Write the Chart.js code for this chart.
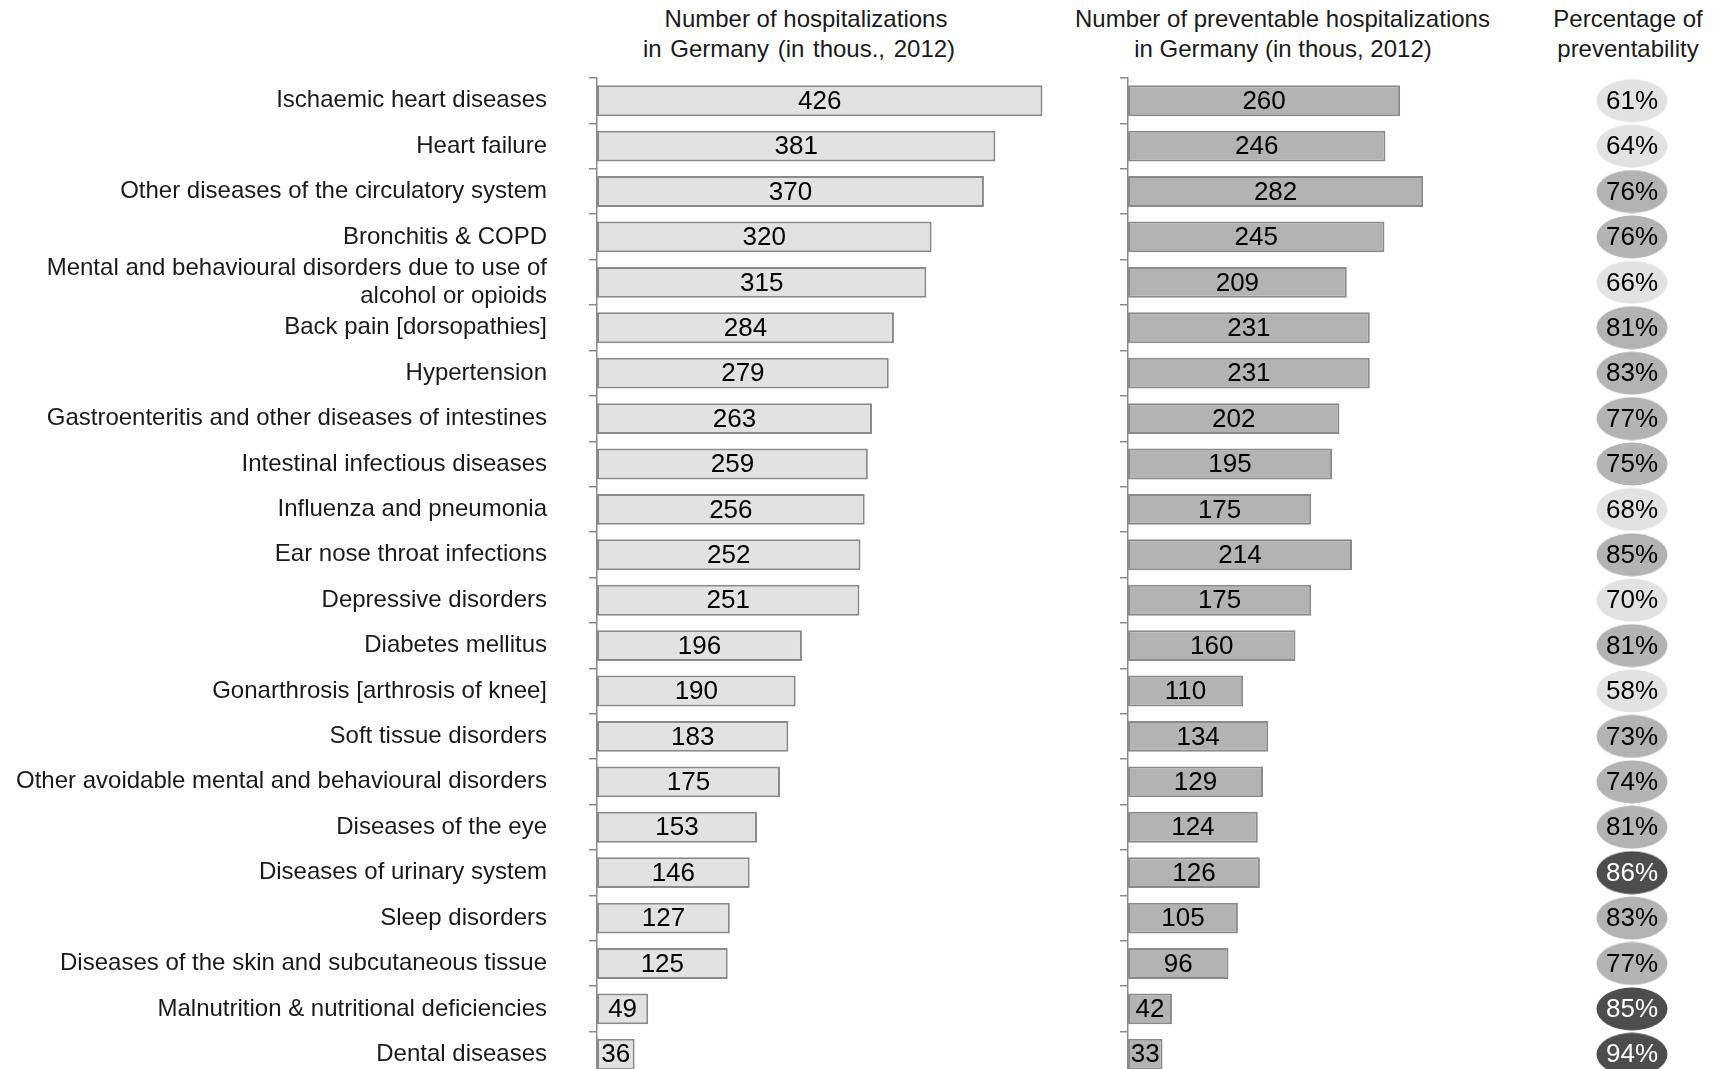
<!DOCTYPE html>
<html lang="en">
<head>
  <meta charset="UTF-8">
  <title>Preventable hospitalizations in Germany 2012</title>
  <script src="https://cdn.jsdelivr.net/npm/chart.js"></script>
  <style>
    body {
      margin: 0;
      background: #fff;
      overflow: hidden;
      font-family: 'Liberation Sans', Arial, sans-serif;
      color: #1a1a1a;
    }
    .stage {
      position: relative;
      width: 1713px;
      height: 1069px;
      overflow: hidden;
    }
    .panel {
      position: absolute;
      top: 0;
      height: 1100px;
    }
    .head {
      position: absolute;
      top: 4px;
      text-align: center;
      font-size: 24px;
      line-height: 29.5px;
      white-space: nowrap;
    }
    .head span { position: relative; }
  </style>
</head>
<body>
  <div class="stage">
    <div class="head" style="left:606px;width:400px;">Number of hospitalizations<br><span style="left:-7px;word-spacing:2px;">in Germany (in thous., 2012)</span></div>
    <div class="head" style="left:1075px;width:400px;">Number of preventable hospitalizations<br><span style="left:8px;">in Germany (in thous, 2012)</span></div>
    <div class="head" style="left:1528px;width:200px;">Percentage of<br>preventability</div>

    <div class="panel" style="left:0;width:1078px;"><canvas id="hospChart"></canvas></div>
    <div class="panel" style="left:1108px;width:334px;"><canvas id="prevChart"></canvas></div>
    <div class="panel" style="left:1590px;width:84px;"><canvas id="pctChart"></canvas></div>
  </div>

  <script>
    const categories = [
      'Ischaemic heart diseases',
      'Heart failure',
      'Other diseases of the circulatory system',
      'Bronchitis & COPD',
      ['Mental and behavioural disorders due to use of', 'alcohol or opioids'],
      'Back pain [dorsopathies]',
      'Hypertension',
      'Gastroenteritis and other diseases of intestines',
      'Intestinal infectious diseases',
      'Influenza and pneumonia',
      'Ear nose throat infections',
      'Depressive disorders',
      'Diabetes mellitus',
      'Gonarthrosis [arthrosis of knee]',
      'Soft tissue disorders',
      'Other avoidable mental and behavioural disorders',
      'Diseases of the eye',
      'Diseases of urinary system',
      'Sleep disorders',
      'Diseases of the skin and subcutaneous tissue',
      'Malnutrition & nutritional deficiencies',
      'Dental diseases'
    ];
    const hospitalizations = [426, 381, 370, 320, 315, 284, 279, 263, 259, 256, 252, 251, 196, 190, 183, 175, 153, 146, 127, 125, 49, 36];
    const preventable = [260, 246, 282, 245, 209, 231, 231, 202, 195, 175, 214, 175, 160, 110, 134, 129, 124, 126, 105, 96, 42, 33];
    const preventabilityPct = [61, 64, 76, 76, 66, 81, 83, 77, 75, 68, 85, 70, 81, 58, 73, 74, 81, 86, 83, 77, 85, 94];

    Chart.defaults.font.family = "'Liberation Sans', Arial, sans-serif";
    Chart.defaults.color = '#1a1a1a';

    const AXIS_GREY = '#8a8a8a';
    const SHADES = { light: '#e2e2e2', mid: '#b3b3b3', dark: '#4d4d4d' };
    const PAD = { top: 78, bottom: 23, left: 0, right: 0 };

    // shade follows the share preventable / total
    function shadeFor(i) {
      const r = preventable[i] / hospitalizations[i];
      if (r < 0.70) return 'light';
      if (r < 0.85) return 'mid';
      return 'dark';
    }

    function ellipseImage(color) {
      const c = document.createElement('canvas');
      c.width = 72;
      c.height = 44;
      const g = c.getContext('2d');
      g.fillStyle = color;
      g.beginPath();
      g.ellipse(36, 22, 35.5, 21.5, 0, 0, Math.PI * 2);
      g.fill();
      return c;
    }
    const ellipses = {
      light: ellipseImage(SHADES.light),
      mid: ellipseImage(SHADES.mid),
      dark: ellipseImage(SHADES.dark)
    };

    const barValueLabels = {
      id: 'barValueLabels',
      afterDatasetsDraw(chart) {
        const ctx = chart.ctx;
        const meta = chart.getDatasetMeta(0);
        const values = chart.data.datasets[0].data;
        ctx.save();
        ctx.font = "26px 'Liberation Sans', Arial, sans-serif";
        ctx.fillStyle = '#000';
        ctx.textAlign = 'center';
        ctx.textBaseline = 'middle';
        meta.data.forEach((bar, i) => {
          ctx.fillText(values[i], (bar.x + bar.base) / 2, bar.y + 1);
        });
        ctx.restore();
      }
    };

    const pctLabels = {
      id: 'pctLabels',
      afterDatasetsDraw(chart) {
        const ctx = chart.ctx;
        const meta = chart.getDatasetMeta(0);
        ctx.save();
        ctx.font = "26px 'Liberation Sans', Arial, sans-serif";
        ctx.textAlign = 'center';
        ctx.textBaseline = 'middle';
        meta.data.forEach((pt, i) => {
          ctx.fillStyle = shadeFor(i) === 'dark' ? '#fff' : '#000';
          ctx.fillText(preventabilityPct[i] + '%', pt.x, pt.y + 1);
        });
        ctx.restore();
      }
    };

    function barChart(id, values, fill, xMax, yWidth, showLabels) {
      return new Chart(document.getElementById(id), {
        type: 'bar',
        data: {
          labels: categories,
          datasets: [{
            data: values,
            backgroundColor: fill,
            borderColor: AXIS_GREY,
            borderWidth: 2,
            borderSkipped: false,
            categoryPercentage: 1,
            barPercentage: 0.68
          }]
        },
        plugins: [barValueLabels],
        options: {
          indexAxis: 'y',
          responsive: true,
          maintainAspectRatio: false,
          animation: false,
          layout: { padding: PAD },
          plugins: {
            legend: { display: false },
            tooltip: { enabled: false }
          },
          scales: {
            x: { display: false, min: 0, max: xMax },
            y: {
              offset: true,
              border: { display: true, color: AXIS_GREY, width: 1.5 },
              grid: {
                offset: true,
                drawOnChartArea: false,
                drawTicks: true,
                tickLength: 8,
                color: AXIS_GREY,
                lineWidth: 1.5
              },
              ticks: {
                display: showLabels,
                autoSkip: false,
                padding: 42,
                color: '#1a1a1a',
                font: { size: 24, lineHeight: 1.2 }
              },
              afterFit(axis) {
                axis.width = yWidth;
                axis.paddingTop = 0;
                axis.paddingBottom = 0;
              }
            }
          }
        }
      });
    }

    barChart('hospChart', hospitalizations, '#e2e2e2', 460, 597, true);
    barChart('prevChart', preventable, '#b3b3b3', 300, 20, false);

    new Chart(document.getElementById('pctChart'), {
      type: 'line',
      data: {
        labels: categories,
        datasets: [{
          data: categories.map((c, i) => ({ x: 'share', y: i, v: preventabilityPct[i] })),
          showLine: false,
          pointStyle: (ctx) => ellipses[shadeFor(ctx.dataIndex)],
          pointRadius: 20,
          clip: false
        }]
      },
      plugins: [pctLabels],
      options: {
        responsive: true,
        maintainAspectRatio: false,
        animation: false,
        layout: { padding: PAD },
        plugins: {
          legend: { display: false },
          tooltip: { enabled: false }
        },
        scales: {
          x: { type: 'category', labels: ['share'], display: false, offset: true },
          y: { type: 'category', display: false, offset: true }
        }
      }
    });
  </script>
</body>
</html>
